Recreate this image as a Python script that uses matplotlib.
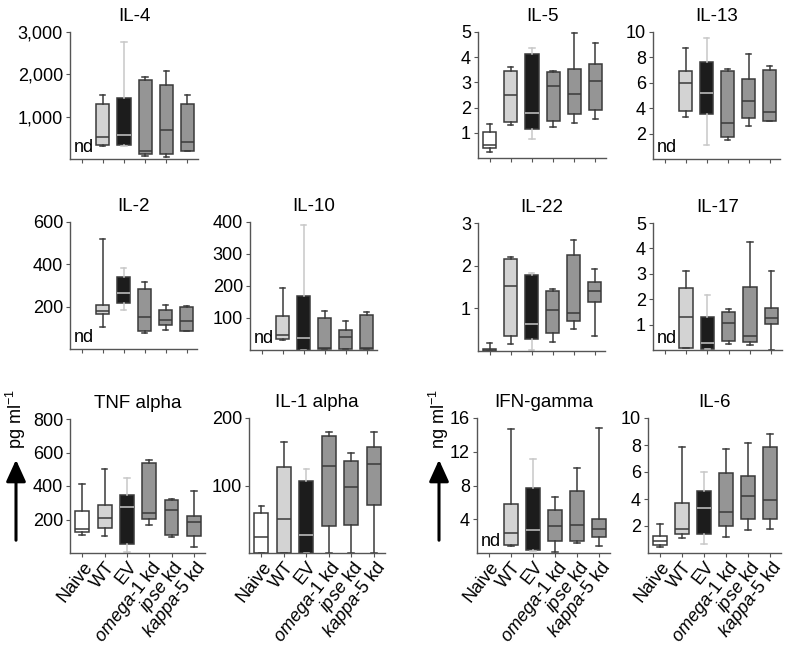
import matplotlib.pyplot as plt
from matplotlib.patches import FancyArrowPatch
from matplotlib.ticker import FuncFormatter

plt.rcParams['font.family'] = ['Liberation Sans', 'DejaVu Sans']
plt.rcParams['mathtext.fontset'] = 'custom'
plt.rcParams['mathtext.rm'] = 'Liberation Sans'
plt.rcParams['mathtext.it'] = 'Liberation Sans:italic'

categories = ['Naive', 'WT', 'EV', r'$\it{omega}$-1 kd', r'$\it{ipse}$ kd', r'$\it{kappa}$-5 kd']
face_colors = ['white', '#d3d3d3', '#1c1c1c', '#959595', '#959595', '#959595']

# each box: [whisker low, q1, median, q3, whisker high]; None = not detected (nd)
il4 = [None, [310, 322, 518, 1294, 1514], [298, 322, 557, 1435, 2753],
       [78, 118, 180, 1859, 1945], [47, 118, 682, 1741, 2086], [196, 196, 392, 1294, 1514]]
il5 = [[0.24, 0.39, 0.50, 1.02, 1.34], [1.29, 1.41, 2.51, 3.46, 3.62], [0.76, 1.15, 1.79, 4.12, 4.38],
       [1.24, 1.48, 2.86, 3.40, 3.44], [1.37, 1.76, 2.52, 3.53, 4.95], [1.56, 1.92, 3.05, 3.72, 4.58]]
il13 = [None, [3.34, 3.79, 5.95, 6.92, 8.75], [1.10, 3.52, 5.17, 7.65, 9.56],
        [1.46, 1.70, 2.87, 6.92, 7.05], [2.56, 3.19, 4.54, 6.27, 8.28], [3.0, 3.03, 3.73, 6.97, 7.34]]
il2 = [None, [103, 163, 180, 210, 519], [185, 216, 263, 342, 384],
       [75, 83, 150, 284, 318], [91, 113, 138, 182, 208], [83, 83, 133, 200, 204]]
il10 = [None, [31, 33, 46, 106, 194], [0, 0, 39, 169, 390],
        [2, 2, 7, 99, 122], [2, 2, 42, 64, 90], [2, 2, 7, 109, 119]]
il22 = [[0, 0, 0.02, 0.05, 0.18], [0.16, 0.34, 1.53, 2.15, 2.20], [0.02, 0.27, 0.64, 1.79, 1.83],
        [0.20, 0.43, 0.95, 1.41, 1.46], [0.51, 0.71, 0.88, 2.26, 2.61], [0.34, 1.14, 1.41, 1.62, 1.92]]
il17 = [None, [0.07, 0.07, 1.30, 2.45, 3.12], [0.03, 0.03, 0.26, 1.30, 2.16],
        [0.24, 0.37, 1.05, 1.48, 1.61], [0.20, 0.30, 0.55, 2.49, 4.25], [0.0, 1.02, 1.27, 1.65, 3.10]]
tnf = [[105, 123, 143, 249, 412], [100, 149, 209, 289, 501], [5, 56, 275, 346, 448],
       [169, 203, 241, 537, 557], [95, 110, 255, 318, 322], [37, 100, 185, 219, 370]]
il1a = [[0, 0, 24, 59, 70], [0, 0, 51, 127, 164], [0, 0, 27, 106, 125],
        [0, 40, 129, 174, 179], [0, 42, 98, 137, 148], [0, 71, 132, 157, 179]]
ifng = [None, [0.8, 0.91, 2.41, 5.85, 14.7], [0.28, 0.32, 2.77, 7.7, 11.15],
        [0.12, 1.46, 3.16, 5.06, 6.6], [1.19, 1.46, 3.36, 7.31, 10.08], [0.87, 1.86, 2.89, 4.03, 14.8]]
il6 = [[0.42, 0.62, 0.86, 1.28, 2.12], [1.11, 1.43, 1.80, 3.70, 7.85], [0.69, 1.41, 3.33, 4.62, 6.02],
       [1.19, 2.02, 3.01, 5.93, 7.73], [1.68, 2.52, 4.25, 5.73, 8.15], [1.80, 2.52, 3.93, 7.83, 8.84]]

W, H = 788, 646
fig = plt.figure(figsize=(W / 100, H / 100), dpi=100)

# title, data, y ticks, pixel box (left, right, top, bottom), show x labels
panels = [
    ('IL-4', il4, [1000, 2000, 3000], (70, 198, 32, 159), False),
    ('IL-5', il5, [1, 2, 3, 4, 5], (478, 606, 32, 158), False),
    ('IL-13', il13, [2, 4, 6, 8, 10], (653, 780, 32, 159), False),
    ('IL-2', il2, [200, 400, 600], (70, 197, 222, 349), False),
    ('IL-10', il10, [100, 200, 300, 400], (250, 377, 222, 350), False),
    ('IL-22', il22, [1, 2, 3], (478, 605, 223, 351), False),
    ('IL-17', il17, [1, 2, 3, 4, 5], (653, 782, 223, 350), False),
    ('TNF alpha', tnf, [200, 400, 600, 800], (70, 205, 419, 553), True),
    ('IL-1 alpha', il1a, [100, 200], (249, 385, 418, 553), True),
    ('IFN-gamma', ifng, [4, 8, 12, 16], (477, 610, 418, 553), True),
    ('IL-6', il6, [2, 4, 6, 8, 10], (648, 781, 418, 553), True),
]

edge = '#3a3a3a'
for title, data, yticks, (x0, x1, y0, y1), show_labels in panels:
    ax = fig.add_axes([x0 / W, 1 - y1 / H, (x1 - x0) / W, (y1 - y0) / H])
    stats, pos = [], []
    for i, d in enumerate(data):
        if d is None:
            continue
        stats.append(dict(whislo=d[0], q1=d[1], med=d[2], q3=d[3], whishi=d[4]))
        pos.append(i)
    art = ax.bxp(stats, positions=pos, widths=0.62, capwidths=0.25, patch_artist=True,
                 showfliers=False,
                 boxprops=dict(edgecolor=edge, linewidth=1.1),
                 medianprops=dict(color=edge, linewidth=1.1),
                 whiskerprops=dict(color=edge, linewidth=1.1),
                 capprops=dict(color=edge, linewidth=1.1))
    for k, i in enumerate(pos):
        art['boxes'][k].set_facecolor(face_colors[i])
        if i == 2:
            light = '#c8c8c8'
            art['medians'][k].set_color(light)
            for a in art['whiskers'][2 * k:2 * k + 2] + art['caps'][2 * k:2 * k + 2]:
                a.set_color(light)
    if data[0] is None:
        ax.text(0.1, 0.02, 'nd', transform=ax.get_xaxis_transform(), ha='center',
                va='bottom', fontsize=13)

    ax.set_xlim(-0.55, 5.5)
    ax.set_ylim(0, yticks[-1])
    ax.set_yticks(yticks)
    if yticks[-1] >= 1000:
        ax.yaxis.set_major_formatter(FuncFormatter(lambda v, p: f'{v:,.0f}'))
    ax.set_xticks(range(len(categories)))
    if show_labels:
        ax.set_xticklabels(categories, rotation=52, ha='right', rotation_mode='anchor',
                           fontsize=11)
    else:
        ax.set_xticklabels([])
    for s in ['top', 'right']:
        ax.spines[s].set_visible(False)
    for s in ['left', 'bottom']:
        ax.spines[s].set_color('#555555')
        ax.spines[s].set_linewidth(1.0)
    ax.tick_params(length=3, width=0.8, color='#555555', labelsize=13, pad=2)
    ax.tick_params(axis='x', pad=1)
    ax.set_title(title, fontsize=13.5, pad=8)

# unit arrows
for x, label in [(16, 'pg ml$^{-1}$'), (439, 'ng ml$^{-1}$')]:
    fig.add_artist(FancyArrowPatch((x / W, 1 - 543 / H), (x / W, 1 - 457 / H),
                                   transform=fig.transFigure,
                                   arrowstyle='-|>,head_width=0.25,head_length=0.55',
                                   mutation_scale=24, lw=2.2, color='black'))
    fig.text(x / W, 1 - 419 / H, label, rotation=90, ha='center', va='center', fontsize=13)

fig.savefig('out.png', dpi=100)
